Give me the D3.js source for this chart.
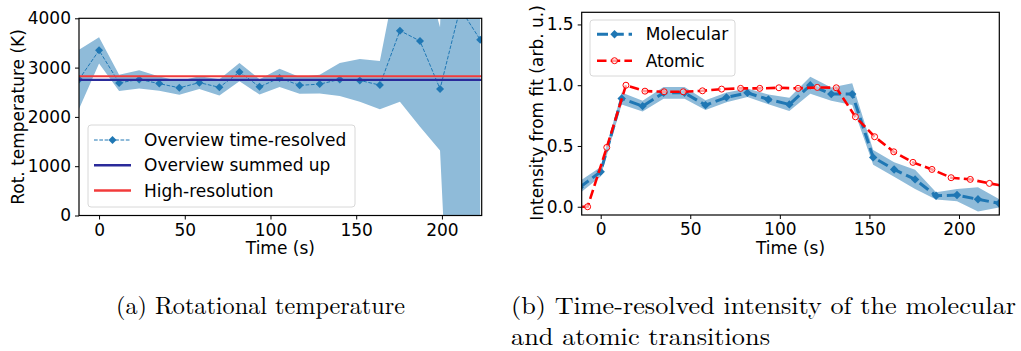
<!DOCTYPE html>
<html>
<head>
<meta charset="utf-8">
<script src="https://cdn.jsdelivr.net/npm/d3@7"></script>
<style>
  body { margin: 0; background: #fff; }
  svg { display: block; }
</style>
</head>
<body>
<script>
// ---- data ----
// (a) rotational temperature
var tTemp = [-11.7, 0, 11.7, 23.4, 35.1, 46.8, 58.5, 70.2, 81.9, 93.6, 105.3, 117.0, 128.7, 140.4, 152.1, 163.8, 175.5, 187.2, 198.9, 210.6, 222.3];
var tempVal = [2760, 3350, 2690, 2760, 2675, 2590, 2695, 2600, 2910, 2610, 2790, 2640, 2665, 2760, 2740, 2645, 3750, 3540, 2567, 4200, 3567];
var tempErr = [600, 265, 166, 185, 145, 140, 130, 165, 185, 155, 186, 170, 190, 335, 435, 490, 1445, 1742, 1250, 11400, 5000];
var tempSummed = 2750;
var tempHighRes = 2825;
var tempTicks = [0, 1000, 2000, 3000, 4000];

// (b) intensities
var tMol = [-11.7, 0, 11.7, 23.4, 35.1, 46.8, 58.5, 70.2, 81.9, 93.6, 105.3, 117.0, 128.7, 140.4, 152.1, 163.8, 175.5, 187.2, 198.9, 210.6, 222.3];
var molVal = [0.16, 0.288, 0.891, 0.828, 0.937, 0.937, 0.836, 0.90, 0.937, 0.883, 0.842, 1.0, 0.927, 0.927, 0.406, 0.307, 0.225, 0.09, 0.096, 0.061, 0.028];
var molErr = [0.05, 0.04, 0.05, 0.045, 0.048, 0.048, 0.04, 0.04, 0.035, 0.04, 0.055, 0.07, 0.055, 0.09, 0.06, 0.06, 0.08, 0.03, 0.05, 0.1, 0.035];
var tAt = [-18.0, -7.3, 3.4, 14.1, 24.7, 35.4, 46.1, 56.8, 67.5, 78.1, 88.8, 99.5, 110.2, 120.9, 131.5, 142.2, 152.9, 163.6, 174.3, 184.9, 195.6, 206.3, 217.0, 227.7];
var atVal = [0.0, 0.0, 0.488, 1.0, 0.951, 0.946, 0.946, 0.954, 0.968, 0.974, 0.974, 0.979, 0.974, 0.982, 0.979, 0.74, 0.576, 0.452, 0.365, 0.307, 0.239, 0.225, 0.192, 0.165];
var intTicks = [0, 0.5, 1.0, 1.5];

var timeTicks = [0, 50, 100, 150, 200];
var legendA = ["Overview time-resolved", "Overview summed up", "High-resolution"];
var legendB = ["Molecular", "Atomic"];

var C_BLUE = "#1f77b4";
var C_BAND = "#8fbbd9";
var C_NAVY = "#2a2a9a";
var C_RED_A = "#f23b3b";
var C_RED_B = "#ff0000";
var FONT = "DejaVu Sans, sans-serif";
var FS = "17px";

var width = 1021, height = 351;
var svg = d3.select("body").append("svg")
	.attr("width", width)
	.attr("height", height)
	.style("font-family", FONT);

var defs = svg.append("defs");

function diamond(g, x, y, s, color) {
	g.append("path")
		.attr("d", "M" + x + "," + (y - s) + "L" + (x + s) + "," + y + "L" + x + "," + (y + s) + "L" + (x - s) + "," + y + "Z")
		.attr("fill", color);
}

function drawAxes(g, x, y, yFormat, box) {
	// x axis
	var ax = g.append("g").attr("transform", "translate(0," + box.b + ")")
		.call(d3.axisBottom(x).tickValues(timeTicks).tickSize(4).tickSizeOuter(0).tickPadding(4));
	// y axis
	var ay = g.append("g").attr("transform", "translate(" + box.l + ",0)")
		.call(d3.axisLeft(y).tickValues(y.ticksList).tickFormat(yFormat).tickSize(4).tickSizeOuter(0).tickPadding(4));
	[ax, ay].forEach(function(a) {
		a.select(".domain").remove();
		a.selectAll("text").style("font-size", FS).style("font-family", FONT).attr("fill", "#000");
		a.selectAll("line").attr("stroke", "#000").attr("stroke-width", 1);
	});
	// frame
	g.append("rect")
		.attr("x", box.l).attr("y", box.t)
		.attr("width", box.r - box.l).attr("height", box.b - box.t)
		.attr("fill", "none").attr("stroke", "#000").attr("stroke-width", 1.2);
}

// ================= (a) =================
var boxA = {l: 79, r: 481.7, t: 18.3, b: 215.5};
var xA = d3.scaleLinear().domain([-11.7, 223.2]).range([boxA.l, boxA.r]);
var yA = d3.scaleLinear().domain([0, 4000]).range([boxA.b, boxA.t]);
yA.ticksList = tempTicks;

defs.append("clipPath").attr("id", "clipA").append("rect")
	.attr("x", boxA.l).attr("y", boxA.t).attr("width", boxA.r - boxA.l).attr("height", boxA.b - boxA.t);

var gA = svg.append("g");
var plotA = gA.append("g").attr("clip-path", "url(#clipA)");

var tempData = tTemp.map(function(t, i) { return {t: t, v: tempVal[i], e: tempErr[i]}; });

plotA.append("path")
	.datum(tempData)
	.attr("d", d3.area().x(function(d) { return xA(d.t); })
		.y0(function(d) { return yA(d.v - d.e); })
		.y1(function(d) { return yA(d.v + d.e); }))
	.attr("fill", C_BAND);

plotA.append("path")
	.datum(tempData)
	.attr("d", d3.line().x(function(d) { return xA(d.t); }).y(function(d) { return yA(d.v); }))
	.attr("fill", "none").attr("stroke", C_BLUE).attr("stroke-width", 1)
	.attr("stroke-dasharray", "3.7,1.6");

tempData.forEach(function(d) { diamond(plotA, xA(d.t), yA(d.v), 4, C_BLUE); });

plotA.append("line")
	.attr("x1", boxA.l).attr("x2", boxA.r)
	.attr("y1", yA(tempSummed)).attr("y2", yA(tempSummed))
	.attr("stroke", C_NAVY).attr("stroke-width", 2.2);
plotA.append("line")
	.attr("x1", boxA.l).attr("x2", boxA.r)
	.attr("y1", yA(tempHighRes)).attr("y2", yA(tempHighRes))
	.attr("stroke", C_RED_A).attr("stroke-width", 2.2);

drawAxes(gA, xA, yA, d3.format("d"), boxA);

gA.append("text").attr("x", (boxA.l + boxA.r) / 2).attr("y", 248)
	.attr("text-anchor", "middle").attr("dominant-baseline", "central")
	.style("font-size", FS).text("Time (s)");
gA.append("text")
	.attr("transform", "translate(18," + 117 + ") rotate(-90)")
	.attr("text-anchor", "middle").attr("dominant-baseline", "central")
	.style("font-size", FS).text("Rot. temperature (K)");

// legend (a)
var legA = gA.append("g");
legA.append("rect").attr("x", 88).attr("y", 125).attr("width", 267).attr("height", 82)
	.attr("rx", 3).attr("fill", "#fff").attr("fill-opacity", 0.8)
	.attr("stroke", "#d8d8d8").attr("stroke-width", 1);
legendA.forEach(function(name, i) {
	var yy = 140 + i * 25.3;
	if (i === 0) {
		legA.append("line").attr("x1", 94).attr("x2", 131).attr("y1", yy).attr("y2", yy)
			.attr("stroke", C_BLUE).attr("stroke-width", 1).attr("stroke-dasharray", "3.7,1.6");
		diamond(legA, 112.5, yy, 4, C_BLUE);
	} else {
		legA.append("line").attr("x1", 94).attr("x2", 131).attr("y1", yy).attr("y2", yy)
			.attr("stroke", i === 1 ? C_NAVY : C_RED_A).attr("stroke-width", 2.5);
	}
	legA.append("text").attr("x", 144).attr("y", yy)
		.attr("dominant-baseline", "central").style("font-size", FS).text(name);
});

// ================= (b) =================
var boxB = {l: 581.7, r: 999.3, t: 12.3, b: 215};
var xB = d3.scaleLinear().domain([-10.6, 222.5]).range([boxB.l, boxB.r]);
var yB = d3.scaleLinear().domain([-0.068, 1.6]).range([boxB.b, boxB.t]);
yB.ticksList = intTicks;

defs.append("clipPath").attr("id", "clipB").append("rect")
	.attr("x", boxB.l).attr("y", boxB.t).attr("width", boxB.r - boxB.l).attr("height", boxB.b - boxB.t);

var gB = svg.append("g");
var plotB = gB.append("g").attr("clip-path", "url(#clipB)");

var molData = tMol.map(function(t, i) { return {t: t, v: molVal[i], e: molErr[i]}; });
var atData = tAt.map(function(t, i) { return {t: t, v: atVal[i]}; });

plotB.append("path")
	.datum(molData)
	.attr("d", d3.area().x(function(d) { return xB(d.t); })
		.y0(function(d) { return yB(d.v - d.e); })
		.y1(function(d) { return yB(d.v + d.e); }))
	.attr("fill", C_BAND);

plotB.append("path")
	.datum(molData)
	.attr("d", d3.line().x(function(d) { return xB(d.t); }).y(function(d) { return yB(d.v); }))
	.attr("fill", "none").attr("stroke", C_BLUE).attr("stroke-width", 3)
	.attr("stroke-dasharray", "11,4.8");
molData.forEach(function(d) { diamond(plotB, xB(d.t), yB(d.v), 4.2, C_BLUE); });

plotB.append("path")
	.datum(atData)
	.attr("d", d3.line().x(function(d) { return xB(d.t); }).y(function(d) { return yB(d.v); }))
	.attr("fill", "none").attr("stroke", C_RED_B).attr("stroke-width", 2.6)
	.attr("stroke-dasharray", "9.5,4.2");
plotB.selectAll("circle.at").data(atData).enter().append("circle")
	.attr("class", "at")
	.attr("cx", function(d) { return xB(d.t); })
	.attr("cy", function(d) { return yB(d.v); })
	.attr("r", 3)
	.attr("fill", "#fff").attr("fill-opacity", 0.6)
	.attr("stroke", C_RED_B).attr("stroke-width", 1);

drawAxes(gB, xB, yB, d3.format(".1f"), boxB);

gB.append("text").attr("x", (boxB.l + boxB.r) / 2).attr("y", 248)
	.attr("text-anchor", "middle").attr("dominant-baseline", "central")
	.style("font-size", FS).text("Time (s)");
gB.append("text")
	.attr("transform", "translate(537," + 113 + ") rotate(-90)")
	.attr("text-anchor", "middle").attr("dominant-baseline", "central")
	.style("font-size", FS).text("Intensity from fit (arb. u.)");

// legend (b)
var legB = gB.append("g");
legB.append("rect").attr("x", 590).attr("y", 20).attr("width", 145).attr("height", 56)
	.attr("rx", 3).attr("fill", "#fff").attr("fill-opacity", 0.8)
	.attr("stroke", "#d8d8d8").attr("stroke-width", 1);
legendB.forEach(function(name, i) {
	var yy = 34.3 + i * 26.4;
	if (i === 0) {
		legB.append("line").attr("x1", 597).attr("x2", 632).attr("y1", yy).attr("y2", yy)
			.attr("stroke", C_BLUE).attr("stroke-width", 3).attr("stroke-dasharray", "11,4.8");
		diamond(legB, 614.5, yy, 4.2, C_BLUE);
	} else {
		legB.append("line").attr("x1", 597).attr("x2", 632).attr("y1", yy).attr("y2", yy)
			.attr("stroke", C_RED_B).attr("stroke-width", 2.6).attr("stroke-dasharray", "9.5,4.2");
		legB.append("circle").attr("cx", 614.5).attr("cy", yy).attr("r", 3)
			.attr("fill", "#fff").attr("fill-opacity", 0.6)
			.attr("stroke", C_RED_B).attr("stroke-width", 1);
	}
	legB.append("text").attr("x", 645.7).attr("y", yy)
		.attr("dominant-baseline", "central").style("font-size", FS).text(name);
});

// ================= captions =================
var SERIF = "'Latin Modern Roman', 'Liberation Serif', 'DejaVu Serif', serif";
function caption(x, y, len, txt) {
	svg.append("text").attr("x", x).attr("y", y)
		.attr("textLength", len).attr("lengthAdjust", "spacingAndGlyphs")
		.style("font-family", SERIF).style("font-size", "24px").attr("fill", "#000")
		.text(txt);
}
caption(116, 314, 289, "(a) Rotational temperature");
caption(511, 314, 505, "(b) Time-resolved intensity of the molecular");
caption(511, 345, 259, "and atomic transitions");
</script>
</body>
</html>
